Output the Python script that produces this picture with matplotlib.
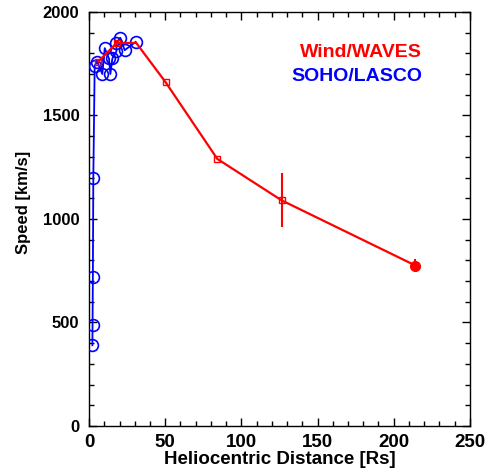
import matplotlib
matplotlib.use('Agg')
import matplotlib.pyplot as plt
from matplotlib.ticker import MultipleLocator

plt.rcParams['font.family'] = ['Liberation Sans', 'DejaVu Sans']
plt.rcParams['font.weight'] = 'bold'

# SOHO/LASCO height-time derived speeds
lasco_r = [2.2, 2.3, 2.5, 2.8, 3.7, 5.3, 8.7, 10.3, 13.1, 14.0, 15.3, 18.0, 18.0, 20.5, 23.4, 30.6]
lasco_v = [390, 490, 720, 1200, 1740, 1760, 1700, 1825, 1775, 1700, 1775, 1810, 1850, 1875, 1815, 1855]

# Wind/WAVES speeds (third vertex is the join with the last LASCO point, no marker)
waves_r = [6.0, 18.2, 31.0, 50.3, 84.2, 126.4]
waves_v = [1760, 1850, 1850, 1660, 1290, 1090]
waves_err = [0, 0, 0, 0, 0, 130]
waves_mark = [0, 1, 3, 4, 5]

# in-situ point at 1 AU
insitu_r = [214.3]
insitu_v = [775]
insitu_err = [30]

fig = plt.figure(figsize=(4.92, 4.76), dpi=100)
ax = fig.add_axes([0.181, 0.105, 0.774, 0.870])

ax.plot(lasco_r, lasco_v, '-', color='blue', lw=1.3, zorder=2)
ax.plot(lasco_r, lasco_v, 'o', mfc='none', mec='blue', ms=8.5, mew=1.2, zorder=3)

ax.plot(waves_r + insitu_r, waves_v + insitu_v, '-', color='red', lw=1.6, zorder=4)
ax.plot(waves_r, waves_v, 's', mfc='none', mec='red', ms=5, mew=1.0,
        markevery=waves_mark, zorder=5)
ax.errorbar(waves_r, waves_v, yerr=waves_err, fmt='none', ecolor='red',
            elinewidth=1.5, capsize=0, zorder=5)
ax.errorbar(insitu_r, insitu_v, yerr=insitu_err, fmt='o', color='red',
            ecolor='red', elinewidth=1.5, ms=7, capsize=0, zorder=5)

ax.set_xlim(0, 250)
ax.set_ylim(0, 2000)
ax.xaxis.set_major_locator(MultipleLocator(50))
ax.xaxis.set_minor_locator(MultipleLocator(10))
ax.yaxis.set_major_locator(MultipleLocator(500))
ax.yaxis.set_minor_locator(MultipleLocator(100))
ax.tick_params(which='both', direction='in', top=True, right=True, width=1)
ax.tick_params(which='major', length=6)
ax.tick_params(which='minor', length=3.5)
ax.tick_params(axis='x', labelsize=13.5, pad=6)
ax.tick_params(axis='y', labelsize=12, pad=7)
for s in ax.spines.values():
    s.set_linewidth(1)

ax.set_xlabel('Heliocentric Distance [Rs]', fontsize=13.5, fontweight='bold', labelpad=0)
ax.set_ylabel('Speed [km/s]', fontsize=12, fontweight='bold')
ax.yaxis.set_label_coords(-0.152, 0.54)

ax.text(0.874, 0.903, 'Wind/WAVES', color='red', fontsize=14, fontweight='bold',
        ha='right', va='center', transform=ax.transAxes)
ax.text(0.874, 0.845, 'SOHO/LASCO', color='blue', fontsize=14, fontweight='bold',
        ha='right', va='center', transform=ax.transAxes)

fig.savefig('out.png', dpi=100)
